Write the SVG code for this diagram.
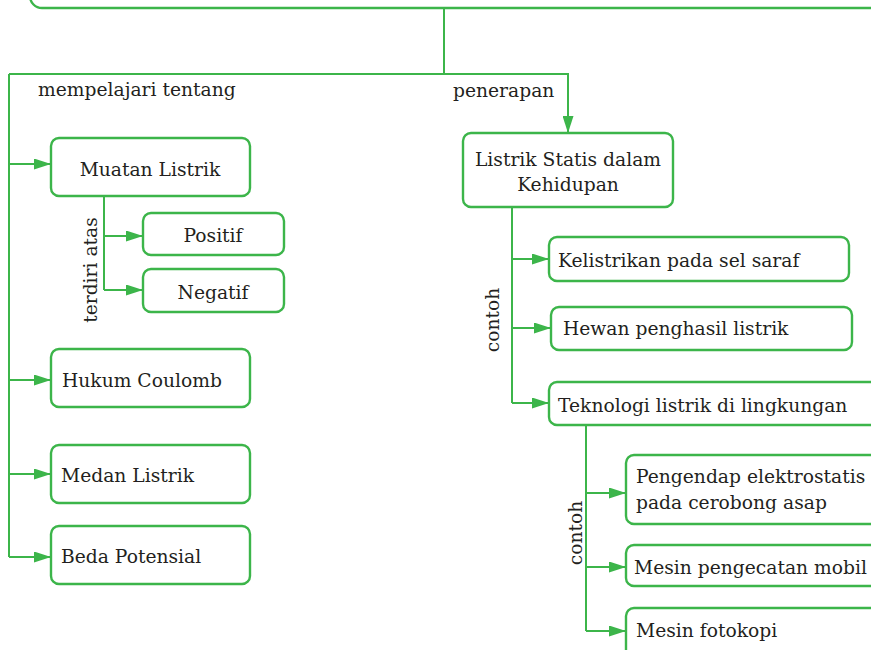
<svg xmlns="http://www.w3.org/2000/svg" width="871" height="650" viewBox="0 0 871 650">
<defs>
<style>
.box{fill:#fff;stroke:#3cb54a;stroke-width:2.4}
.ln{fill:none;stroke:#3cb54a;stroke-width:2}
.ar{fill:none;stroke:#3cb54a;stroke-width:2;marker-end:url(#ah)}
text{font-family:'DejaVu Serif',serif;font-size:18.7px;fill:#231f20}
.c{text-anchor:middle}
</style>
<marker id="ah" markerUnits="userSpaceOnUse" markerWidth="17" markerHeight="11" refX="17" refY="5.5" orient="auto">
<path d="M0,0 L17,5.5 L0,11 Z" fill="#3cb54a"/>
</marker>
</defs>
<rect width="871" height="650" fill="#fff"/>
<g id="top"><rect class="box" x="30" y="-40" width="900" height="48" rx="12"/></g>
<g id="connectors">
<path class="ln" d="M444,8 V74"/>
<path class="ar" d="M9,74 H568 V133"/>
<path class="ln" d="M9,74 V557"/>
<path class="ar" d="M9,164 H51"/>
<path class="ar" d="M9,380 H51"/>
<path class="ar" d="M9,474 H51"/>
<path class="ar" d="M9,557 H51"/>
<path class="ln" d="M104,196 V290"/>
<path class="ar" d="M104,236 H143"/>
<path class="ar" d="M104,290 H143"/>
<path class="ln" d="M512,207 V403"/>
<path class="ar" d="M512,259 H549"/>
<path class="ar" d="M512,328 H551"/>
<path class="ar" d="M512,403 H549"/>
<path class="ln" d="M586,425 V631"/>
<path class="ar" d="M586,493 H626"/>
<path class="ar" d="M586,567 H626"/>
<path class="ar" d="M586,631 H626"/>
</g>
<g id="lbl-mempelajari"><text x="38" y="96">mempelajari tentang</text></g>
<g id="lbl-penerapan"><text x="453" y="97">penerapan</text></g>
<g id="lbl-terdiri"><text class="c" transform="translate(97,270) rotate(-90)">terdiri atas</text></g>
<g id="lbl-contoh1"><text class="c" transform="translate(499,320) rotate(-90)">contoh</text></g>
<g id="lbl-contoh2"><text class="c" transform="translate(582,533) rotate(-90)">contoh</text></g>
<g id="muatan"><rect class="box" x="51" y="138" width="199" height="58" rx="8"/><text class="c" x="150" y="176">Muatan Listrik</text></g>
<g id="positif"><rect class="box" x="143" y="213" width="141" height="42" rx="8"/><text class="c" x="213" y="242">Positif</text></g>
<g id="negatif"><rect class="box" x="143" y="269" width="141" height="43" rx="8"/><text class="c" x="213" y="299">Negatif</text></g>
<g id="coulomb"><rect class="box" x="51" y="349" width="199" height="58" rx="8"/><text x="62" y="387">Hukum Coulomb</text></g>
<g id="medan"><rect class="box" x="51" y="445" width="199" height="58" rx="8"/><text x="61" y="482">Medan Listrik</text></g>
<g id="beda"><rect class="box" x="51" y="526" width="199" height="58" rx="8"/><text x="61" y="563">Beda Potensial</text></g>
<g id="statis"><rect class="box" x="463" y="133" width="210" height="74" rx="8"/><text class="c" x="568" y="166">Listrik Statis dalam</text><text class="c" x="568" y="191">Kehidupan</text></g>
<g id="saraf"><rect class="box" x="549" y="237" width="300" height="44" rx="8"/><text x="558" y="267">Kelistrikan pada sel saraf</text></g>
<g id="hewan"><rect class="box" x="551" y="307" width="301" height="43" rx="8"/><text x="563" y="335">Hewan penghasil listrik</text></g>
<g id="teknologi"><rect class="box" x="549" y="382" width="340" height="43" rx="8"/><text x="558" y="412">Teknologi listrik di lingkungan</text></g>
<g id="pengendap"><rect class="box" x="626" y="455" width="260" height="69" rx="8"/><text x="636" y="483">Pengendap elektrostatis</text><text x="636" y="509">pada cerobong asap</text></g>
<g id="pengecatan"><rect class="box" x="626" y="545" width="260" height="41" rx="8"/><text x="634" y="574">Mesin pengecatan mobil</text></g>
<g id="fotokopi"><rect class="box" x="626" y="608" width="260" height="60" rx="8"/><text x="636" y="637">Mesin fotokopi</text></g>
</svg>
